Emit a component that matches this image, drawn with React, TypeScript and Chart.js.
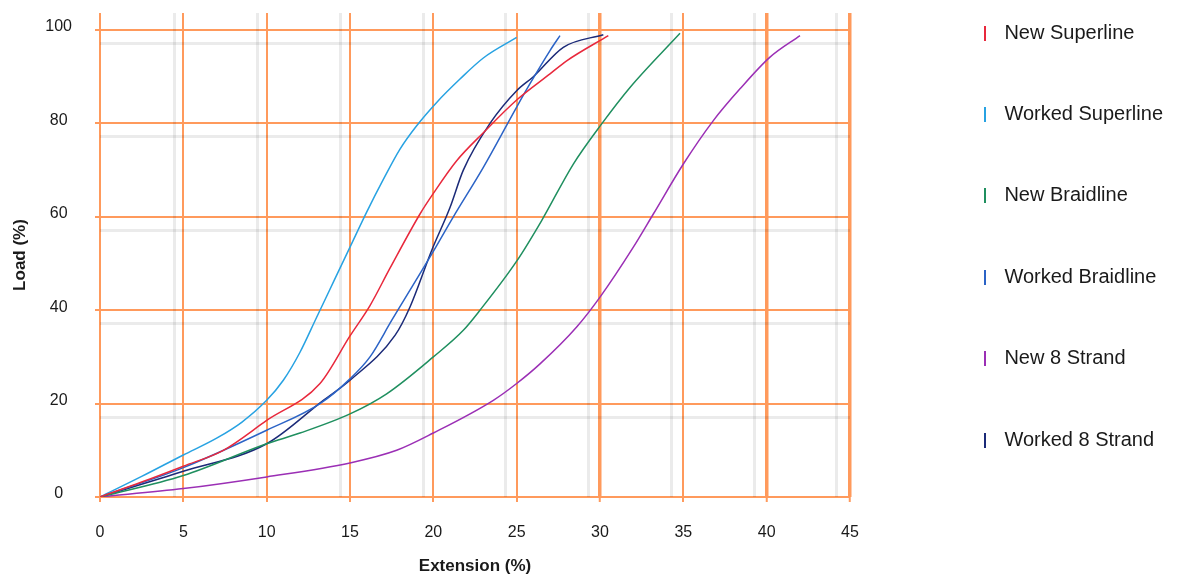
import React, { useEffect, useRef } from 'react';
import { Chart, registerables } from 'chart.js';

Chart.register(...registerables);

// ---- series (Extension %, Load %) ----
const seriesNames = ['New Superline', 'Worked Superline', 'New Braidline', 'Worked Braidline', 'New 8 Strand', 'Worked 8 Strand'];
const seriesColors = ['#E8283C', '#27A2E2', '#1F8F5F', '#2B63C6', '#9B2FB5', '#1B2A78'];

const newSuperlineX = [0, 2.5, 5, 7.4, 10, 13.2, 15, 16.2, 17.4, 19.2, 20, 21.4, 23, 25, 27, 28, 30.5];
const newSuperlineY = [0, 3.2, 6.6, 10, 16.4, 24.3, 34.5, 41, 49, 60.6, 65, 72, 78, 85, 90.6, 93.4, 98.8];

const workedSuperlineX = [0, 2.5, 5, 7, 8.5, 10, 11, 12, 13, 14, 15, 16, 17, 18, 19, 20.2, 21.6, 23, 25];
const workedSuperlineY = [0, 4.4, 9, 12.6, 16, 20.7, 25, 31, 38.5, 46, 53.5, 61, 68, 74.5, 79.5, 84.5, 89.5, 94, 98.4];

const newBraidlineX = [0, 5, 10, 12, 15, 17.2, 20, 21.8, 22.8, 25, 26.5, 28.4, 30.1, 31.8, 34.8];
const newBraidlineY = [0, 4.6, 11.4, 13.7, 17.8, 22.1, 30, 35.7, 40, 50.5, 59.2, 71.3, 79.9, 87.7, 99.3];

const workedBraidlineX = [0, 5, 10, 13.2, 15, 16.2, 17.5, 19.9, 21.2, 23, 25, 25.8, 27, 27.6];
const workedBraidlineY = [0, 6.3, 14.3, 20, 25.3, 30, 37.8, 52, 60, 70.6, 83.5, 88.5, 95.6, 98.8];

const new8StrandX = [0, 5, 10, 15, 17.8, 20, 23.6, 25, 26.4, 28.6, 30, 32, 33.2, 35, 36.8, 38.4, 40.2, 42];
const new8StrandY = [0, 1.8, 4.3, 7.3, 10, 13.7, 20.7, 24.3, 28.5, 36.4, 42.8, 53.5, 60.6, 71.3, 80.6, 87.4, 94.2, 98.8];

const worked8StrandX = [0, 5, 10, 13.4, 15, 17.7, 18.6, 19.9, 21, 21.8, 23.4, 25, 26, 27.8, 30.2];
const worked8StrandY = [0, 5.5, 11.4, 20.7, 25, 34.6, 40.7, 52.8, 62, 70, 80, 87, 90, 96.3, 99];

const seriesX = [newSuperlineX, workedSuperlineX, newBraidlineX, workedBraidlineX, new8StrandX, worked8StrandX];
const seriesY = [newSuperlineY, workedSuperlineY, newBraidlineY, workedBraidlineY, new8StrandY, worked8StrandY];

// ---- axes ----
const xTicks = [0, 5, 10, 15, 20, 25, 30, 35, 40, 45];
const yTicks = [0, 20, 40, 60, 80, 100];
const heavyXTicks = [30, 40, 45];
const ghostXTicks = [5, 10, 15, 20, 25, 30, 35, 40, 45];
const ghostYTicks = [20, 40, 60, 80, 100];

const xTitle = 'Extension (%)';
const yTitle = 'Load (%)';

const FONT = '"Liberation Sans", Arial, Helvetica, sans-serif';
const ORANGE = '#FF9A5C';
const GHOST = 'rgba(0,0,0,0.08)';
const TEXT = '#1a1a1a';

// legend placement (centre of first row / gap after plot)
const LEGEND_GAP = 65;
const LEGEND_FIRST_CENTER = 33;
const LEGEND_FONT = 20;
const LEGEND_PAD = 61.4;

const legendPlacement = {
  id: 'legendPlacement',
  afterLayout(chart: any) {
    const lg = chart.legend;
    if (!lg) return;
    const w = lg.width;
    lg.left = chart.chartArea.right + LEGEND_GAP;
    lg.right = lg.left + w;
    lg.top = LEGEND_FIRST_CENTER - LEGEND_FONT / 2 - LEGEND_PAD;
    lg.bottom = lg.top + 2000;
  },
};

function makeBar(color: string): HTMLCanvasElement {
  const c = document.createElement('canvas');
  c.width = 2;
  c.height = 15;
  const g = c.getContext('2d')!;
  g.fillStyle = color;
  g.fillRect(0, 0, 2, 15);
  return c;
}

const noPad = (s: any) => {
  s.paddingTop = 0;
  s.paddingBottom = 0;
  s.paddingLeft = 0;
  s.paddingRight = 0;
};

export default function App() {
  const ref = useRef<HTMLCanvasElement>(null);

  useEffect(() => {
    if (!ref.current) return;
    const datasets = seriesNames.map((name, i) => ({
      label: name,
      data: seriesX[i].map((x, j) => ({ x, y: seriesY[i][j] })),
      borderColor: seriesColors[i],
      backgroundColor: seriesColors[i],
      pointBorderColor: seriesColors[i],
      pointBackgroundColor: seriesColors[i],
      borderWidth: 1.5,
      pointRadius: 0,
      pointHoverRadius: 0,
      pointStyle: makeBar(seriesColors[i]),
      pointRotation: 0,
      fill: false,
      cubicInterpolationMode: 'monotone' as const,
      xAxisID: 'x',
      yAxisID: 'y',
    }));

    const chart = new Chart(ref.current, {
      type: 'line',
      data: { datasets },
      plugins: [legendPlacement],
      options: {
        animation: false,
        responsive: false,
        devicePixelRatio: 1,
        events: [],
        layout: { padding: { top: 13, right: 344, bottom: 0, left: 0 } },
        plugins: {
          tooltip: { enabled: false },
          title: { display: false },
          legend: {
            display: true,
            position: 'chartArea',
            align: 'start',
            labels: {
              usePointStyle: true,
              pointStyleWidth: 18,
              boxHeight: 15,
              padding: LEGEND_PAD,
              color: TEXT,
              font: { family: FONT, size: LEGEND_FONT },
            },
          },
        },
        scales: {
          x: {
            type: 'linear',
            position: 'bottom',
            min: 0,
            max: 45,
            z: 0,
            afterBuildTicks: (s: any) => { s.ticks = xTicks.map((v) => ({ value: v })); },
            afterFit: (s: any) => { s.height = 80; noPad(s); },
            border: { display: false },
            grid: {
              color: ORANGE,
              tickColor: ORANGE,
              lineWidth: (c: any) => (c.tick && heavyXTicks.includes(c.tick.value) ? 3.5 : 2),
              tickWidth: 2,
              tickLength: 5,
              drawTicks: true,
            },
            ticks: {
              autoSkip: false,
              maxRotation: 0,
              padding: 21,
              color: TEXT,
              font: { family: FONT, size: 16 },
            },
            title: {
              display: true,
              text: xTitle,
              color: TEXT,
              font: { family: FONT, size: 17, weight: 'bold' },
              padding: { top: 0, bottom: 0 },
            },
          },
          y: {
            type: 'linear',
            position: 'left',
            min: 0,
            max: 103.64,
            z: 0,
            afterBuildTicks: (s: any) => { s.ticks = yTicks.map((v) => ({ value: v })); },
            afterFit: (s: any) => { s.width = 100; noPad(s); },
            border: { display: false },
            grid: {
              color: ORANGE,
              tickColor: ORANGE,
              lineWidth: 2,
              tickLength: 5,
              drawTicks: true,
            },
            ticks: {
              padding: 23,
              crossAlign: 'center',
              labelOffset: -3,
              color: TEXT,
              font: { family: FONT, size: 16 },
            },
            title: {
              display: true,
              text: yTitle,
              color: TEXT,
              font: { family: FONT, size: 17, weight: 'bold' },
              padding: { top: 10, bottom: 0 },
            },
          },
          x2: {
            type: 'linear',
            position: 'top',
            min: 0.468,
            max: 45.79,
            z: -1,
            afterBuildTicks: (s: any) => { s.ticks = ghostXTicks.map((v) => ({ value: v })); },
            afterFit: (s: any) => { s.height = 0; noPad(s); },
            border: { display: false },
            grid: { color: GHOST, lineWidth: 3, drawTicks: false },
            ticks: { display: false },
          },
          y2: {
            type: 'linear',
            position: 'right',
            min: 2.9,
            max: 106.54,
            z: -1,
            afterBuildTicks: (s: any) => { s.ticks = ghostYTicks.map((v) => ({ value: v })); },
            afterFit: (s: any) => { s.width = 0; noPad(s); },
            border: { display: false },
            grid: { color: GHOST, lineWidth: 3, drawTicks: false },
            ticks: { display: false },
          },
        },
      } as any,
    });
    return () => chart.destroy();
  }, []);

  return (
    <div style={{ position: 'absolute', left: 0, top: 0, width: 1194, height: 577, background: '#ffffff' }}>
      <canvas ref={ref} width={1194} height={577} style={{ display: 'block', width: 1194, height: 577 }} />
    </div>
  );
}
